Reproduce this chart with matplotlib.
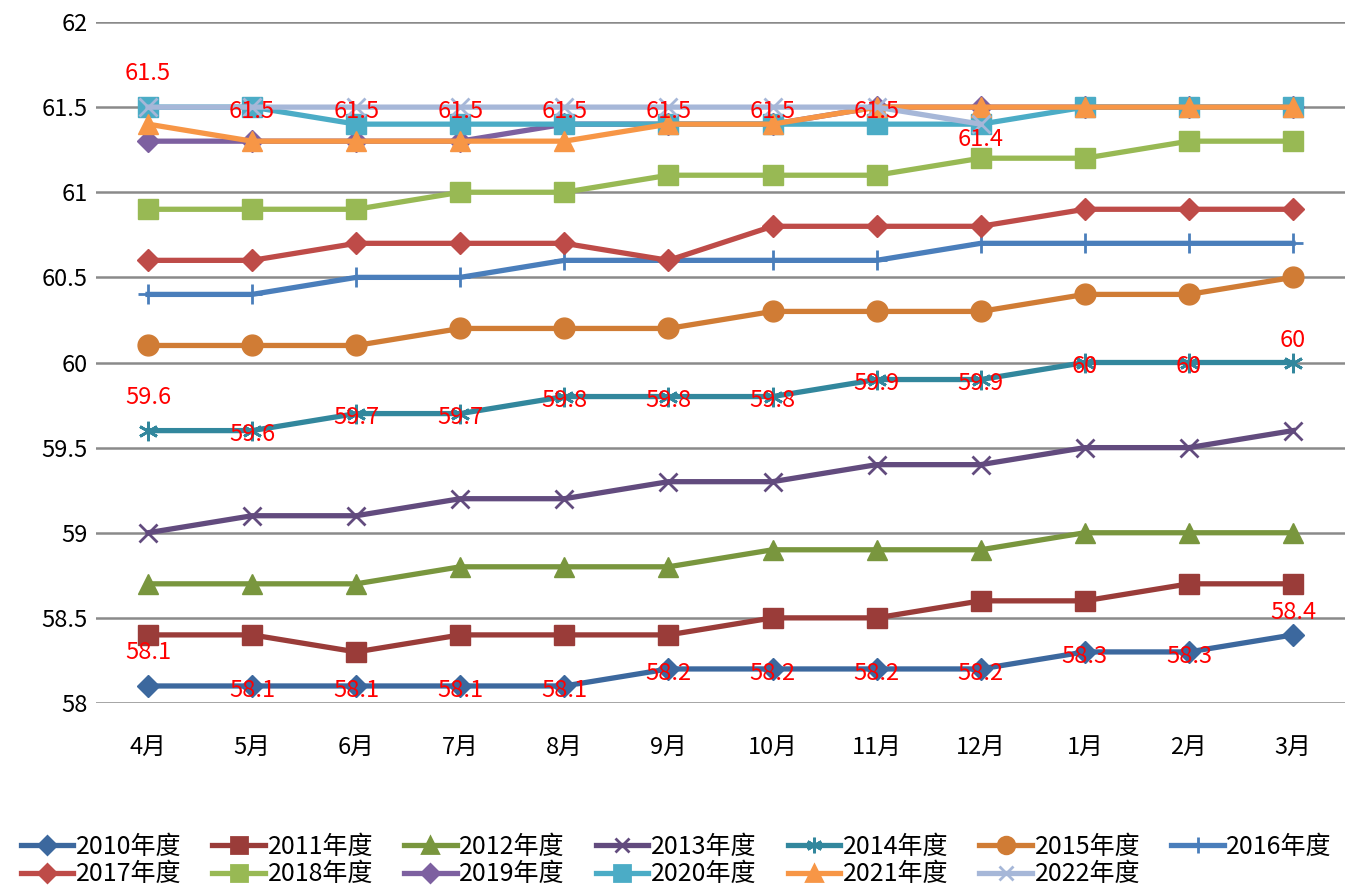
"""Monthly values by fiscal year (2010-2022), line chart recreation."""

import matplotlib
matplotlib.use("Agg")
import matplotlib.pyplot as plt
from matplotlib.lines import Line2D

# one family only: every glyph used (digits, 月, 年度) is in Noto Sans CJK
plt.rcParams["font.family"] = "Noto Sans CJK SC"

# ─────────────────────────────────────────────────────────────────────────────
# DATA
# ─────────────────────────────────────────────────────────────────────────────

months = ["4月", "5月", "6月", "7月", "8月", "9月", "10月", "11月", "12月", "1月", "2月", "3月"]
y_ticks = [58, 58.5, 59, 59.5, 60, 60.5, 61, 61.5, 62]

v2010 = [58.1, 58.1, 58.1, 58.1, 58.1, 58.2, 58.2, 58.2, 58.2, 58.3, 58.3, 58.4]
v2011 = [58.4, 58.4, 58.3, 58.4, 58.4, 58.4, 58.5, 58.5, 58.6, 58.6, 58.7, 58.7]
v2012 = [58.7, 58.7, 58.7, 58.8, 58.8, 58.8, 58.9, 58.9, 58.9, 59.0, 59.0, 59.0]
v2013 = [59.0, 59.1, 59.1, 59.2, 59.2, 59.3, 59.3, 59.4, 59.4, 59.5, 59.5, 59.6]
v2014 = [59.6, 59.6, 59.7, 59.7, 59.8, 59.8, 59.8, 59.9, 59.9, 60.0, 60.0, 60.0]
v2015 = [60.1, 60.1, 60.1, 60.2, 60.2, 60.2, 60.3, 60.3, 60.3, 60.4, 60.4, 60.5]
v2016 = [60.4, 60.4, 60.5, 60.5, 60.6, 60.6, 60.6, 60.6, 60.7, 60.7, 60.7, 60.7]
v2017 = [60.6, 60.6, 60.7, 60.7, 60.7, 60.6, 60.8, 60.8, 60.8, 60.9, 60.9, 60.9]
v2018 = [60.9, 60.9, 60.9, 61.0, 61.0, 61.1, 61.1, 61.1, 61.2, 61.2, 61.3, 61.3]
v2019 = [61.3, 61.3, 61.3, 61.3, 61.4, 61.4, 61.4, 61.5, 61.5, 61.5, 61.5, 61.5]
v2020 = [61.5, 61.5, 61.4, 61.4, 61.4, 61.4, 61.4, 61.4, 61.4, 61.5, 61.5, 61.5]
v2021 = [61.4, 61.3, 61.3, 61.3, 61.3, 61.4, 61.4, 61.5, 61.5, 61.5, 61.5, 61.5]
v2022 = [61.5, 61.5, 61.5, 61.5, 61.5, 61.5, 61.5, 61.5, 61.4]

labels = ["2010年度", "2011年度", "2012年度", "2013年度", "2014年度", "2015年度", "2016年度",
          "2017年度", "2018年度", "2019年度", "2020年度", "2021年度", "2022年度"]
series = [v2010, v2011, v2012, v2013, v2014, v2015, v2016,
          v2017, v2018, v2019, v2020, v2021, v2022]

# ─────────────────────────────────────────────────────────────────────────────
# STYLE
# ─────────────────────────────────────────────────────────────────────────────

colors = ["#3C689E", "#9A3C39", "#79963E", "#624B7E", "#32879D", "#D07C35", "#4A7EBB",
          "#BE4B48", "#98B954", "#7D60A0", "#4BACC6", "#F79646", "#A6B7D8"]
markers = ["D", "s", "^", "x", (6, 2, 0), "o", "+",
           "D", "s", "D", "s", "^", "x"]
sizes = [11, 15, 14, 13, 14, 15, 14, 11, 15, 11, 15, 14, 13]
labelled = {0, 4, 12}  # 2010, 2014, 2022 carry red data labels

fig = plt.figure(figsize=(13.7, 8.93), dpi=100)
ax = fig.add_axes([96 / 1370, 1 - 703 / 893, 1249 / 1370, 681 / 893])

x_all = list(range(len(months)))
for i, (vals, lab) in enumerate(zip(series, labels)):
    xs = x_all[:len(vals)]
    mew = 2.0 if markers[i] in ("x", "+") or isinstance(markers[i], tuple) else 1.0
    ax.plot(xs, vals, color=colors[i], lw=3.8, marker=markers[i], ms=sizes[i],
            mec=colors[i], mfc=colors[i], mew=mew, label=lab, zorder=3 + i)

    if i in labelled:
        last = len(vals) - 1
        for j, v in enumerate(vals):
            if j == 0:
                dy = 24
            elif i == 12 and j == last:
                dy = -11
            elif j == last:
                dy = 16
            else:
                dy = -3
            ax.annotate(f"{v:g}", (xs[j], v), xytext=(0, dy), textcoords="offset points",
                        ha="center", va="center", color="#FF0000", fontsize=17, zorder=30)

ax.set_xlim(-0.5, len(months) - 0.5)
ax.set_ylim(58, 62)
ax.set_yticks(y_ticks)
ax.set_yticklabels([f"{t:g}" for t in y_ticks], fontsize=17)
ax.set_xticks(x_all)
ax.set_xticklabels(months, fontsize=17)
ax.tick_params(axis="x", length=0, pad=24)
ax.tick_params(axis="y", length=0, pad=6)
ax.grid(axis="y", color="#8A8A8A", lw=1.8, zorder=0)
ax.set_axisbelow(True)
for spine in ax.spines.values():
    spine.set_visible(False)

# legend fills column by column, so interleave the two rows (2010-2016 / 2017-2022)
order = []
for c in range(7):
    order.append(c)
    if c + 7 < len(labels):
        order.append(c + 7)
handles = [Line2D([], [], color=colors[k], lw=3.8, marker=markers[k], ms=sizes[k] * 0.8,
                  mec=colors[k], mfc=colors[k], mew=2.0) for k in order]
fig.legend(handles, [labels[k] for k in order], ncol=7, loc="upper left",
           bbox_to_anchor=(0.006, 0.08), frameon=False, fontsize=18,
           handlelength=2.1, handletextpad=0.1, columnspacing=1.25,
           labelspacing=0.05, borderpad=0)

fig.savefig("out.png", dpi=100)
